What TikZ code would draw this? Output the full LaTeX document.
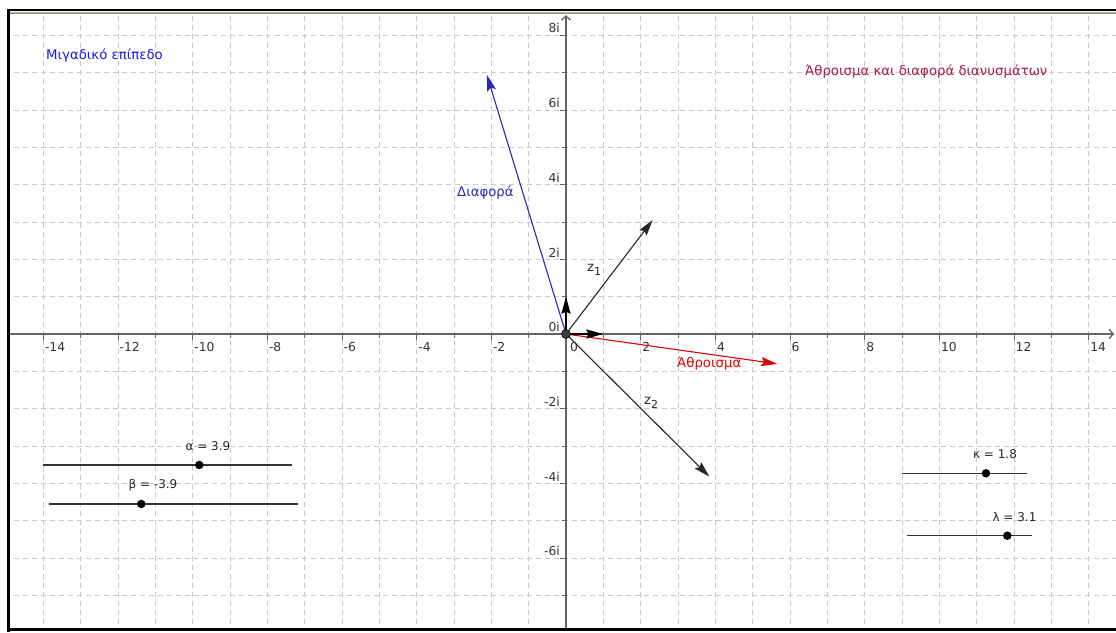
\documentclass[tikz,border=0pt]{standalone}
\usepackage{fontspec}
\setmainfont{DejaVu Sans}
\usetikzlibrary{arrows.meta}
\definecolor{gridgray}{RGB}{200,200,200}
\definecolor{axisgray}{RGB}{100,100,100}
\definecolor{vblue}{RGB}{40,40,190}
\definecolor{tblue}{RGB}{25,25,225}
\definecolor{vred}{RGB}{225,0,0}
\definecolor{crimsonT}{RGB}{165,25,70}
\definecolor{tanline}{RGB}{195,175,150}
\definecolor{ptgray}{RGB}{60,60,60}
\tikzset{
  gridline/.style={gridgray, line width=0.9pt, dash pattern=on 5pt off 4pt},
  axisline/.style={axisgray, line width=1.3pt},
  ticklabel/.style={font=\fontsize{12.3}{14}\selectfont, text=black!80, inner sep=0pt},
  vec/.style={line width=1.1pt, -{Stealth[length=16pt,width=9pt,inset=2.5pt]}},
  unitvec/.style={line width=1.8pt, -{Stealth[length=17pt,width=9pt,inset=2pt]}},
  slider/.style={black!80, line width=1.1pt},
  sliderpt/.style={circle, fill=black, inner sep=0pt, minimum size=8.5pt},
  sliderlbl/.style={font=\fontsize{12}{14}\selectfont, text=black!85, inner sep=0pt},
  txt/.style={font=\fontsize{13.3}{16}\selectfont, inner sep=0pt, anchor=west}
}
\begin{document}
\begin{tikzpicture}[x=1pt,y=1pt]
\useasboundingbox (0,0) rectangle (1116,632);
\fill[white] (0,0) rectangle (1116,632);
\begin{scope}
\clip (10,4) rectangle (1116,618);
\begin{scope}[shift={(566,298)}, x=37.333pt, y=37.333pt]
  % grid
  \foreach \i in {-15,...,15} \draw[gridline] (\i,-8.5) -- (\i,9);
  \foreach \j in {-8,...,9} \draw[gridline] (-16,\j) -- (16,\j);
  % axes
  \coordinate (xa) at (-15.5,0);
  \coordinate (xb) at (14.68,0);
  \coordinate (ya) at (0,-8.5);
  \coordinate (yb) at (0,8.54);
  \draw[axisline, -{Straight Barb[length=4pt,width=9pt]}] (xa) -- (xb);
  \draw[axisline, -{Straight Barb[length=4pt,width=9pt]}] (ya) -- (yb);
  % ticks
  \foreach \i in {-14,...,14} {
    \pgfmathsetmacro{\tl}{mod(abs(\i),2)==0 ? 6 : 4}
    \draw[axisgray, line width=0.9pt] (\i,0) -- ++(0,-\tl pt);
  }
  \foreach \j in {-7,...,8} {
    \pgfmathsetmacro{\tl}{mod(abs(\j),2)==0 ? 6 : 4}
    \draw[axisgray, line width=0.9pt] (0,\j) -- ++(-\tl pt,0);
  }
  \foreach \i in {-14,-12,...,-2} \node[ticklabel, anchor=north west] (xl\i) at ([shift={(1.5pt,-8pt)}]\i,0) {-\the\numexpr-\i\relax};
  \foreach \i in {2,4,...,14} \node[ticklabel, anchor=north west] (xl\i) at ([shift={(1.5pt,-8pt)}]\i,0) {\i};
  \node[ticklabel, anchor=north west] (xl0) at ([shift={(4pt,-8pt)}]0,0) {0};
  \foreach \j in {2,4,6,8} \node[ticklabel, anchor=south east] (yl\j) at ([shift={(-6pt,2pt)}]0,\j) {\j i};
  \foreach \j in {2,4,6} \node[ticklabel, anchor=south east] (ylm\j) at ([shift={(-6pt,2pt)}]0,-\j) {-\j i};
  \node[ticklabel, anchor=south east] (yl0) at ([shift={(-6pt,2pt)}]0,0) {0i};
  % vectors
  \coordinate (O) at (0,0);
  \coordinate (D) at (-2.12,6.94);
  \coordinate (Z1) at (2.32,3.05);
  \coordinate (Z2) at (3.84,-3.82);
  \coordinate (S) at (5.66,-0.80);
  \coordinate (E1) at (1,0);
  \coordinate (E2) at (0,1);
  \draw[vec, vblue] (O) -- (D);
  \draw[vec, black!85] (O) -- (Z1);
  \draw[vec, black!85] (O) -- (Z2);
  \draw[vec, vred] (O) -- (S);
  \draw[unitvec, black] (O) -- (E1);
  \draw[unitvec, black] (O) -- (E2);
  \node[circle, fill=ptgray, draw=black, line width=0.6pt, inner sep=0pt, minimum size=9pt] (Opt) at (O) {};
\end{scope}
\end{scope}
% frame
\draw[black, line width=3pt] (8.5,0) -- (8.5,623);
\draw[black, line width=3pt] (7,2.5) -- (1116,2.5);
\draw[black, line width=2pt] (7,622) -- (1116,622);
\draw[tanline, line width=1.2pt] (10,619.6) -- (1116,619.6);
\draw[black!45, line width=0.8pt] (10,618.5) -- (1116,618.5);
% texts
\node[txt, text=tblue] (plane) at (46,576) {Μιγαδικό επίπεδο};
\node[txt, text=crimsonT] (title) at (805,560) {Άθροισμα και διαφορά διανυσμάτων};
\node[txt, text=vblue] (diff) at (457,439) {Διαφορά};
\node[txt, text=vred] (sum) at (677,268) {Άθροισμα};
\node[txt, text=black!85] (z1) at (587,362) {z\raisebox{-0.45ex}{\fontsize{11}{12}\selectfont 1}};
\node[txt, text=black!85] (z2) at (644,229) {z\raisebox{-0.45ex}{\fontsize{11}{12}\selectfont 2}};
% sliders
\coordinate (aL) at (42.7,167); \coordinate (aR) at (292.3,167);
\coordinate (bL) at (49.3,128); \coordinate (bR) at (298.3,128);
\coordinate (kL) at (901.7,158.7); \coordinate (kR) at (1026.7,158.7);
\coordinate (lL) at (906.7,96.3); \coordinate (lR) at (1031.7,96.3);
\draw[slider] (aL) -- (aR);
\draw[slider] (bL) -- (bR);
\draw[slider] (kL) -- (kR);
\draw[slider] (lL) -- (lR);
\node[sliderpt] (aP) at (199.3,167) {};
\node[sliderpt] (bP) at (141.3,128) {};
\node[sliderpt] (kP) at (986,158.7) {};
\node[sliderpt] (lP) at (1007.3,96.3) {};
\node[sliderlbl] (aT) at (208,186) {α = 3.9};
\node[sliderlbl] (bT) at (153,147) {β = -3.9};
\node[sliderlbl] (kT) at (995,178) {κ = 1.8};
\node[sliderlbl] (lT) at (1014.5,115.3) {λ = 3.1};
\end{tikzpicture}
\end{document}
